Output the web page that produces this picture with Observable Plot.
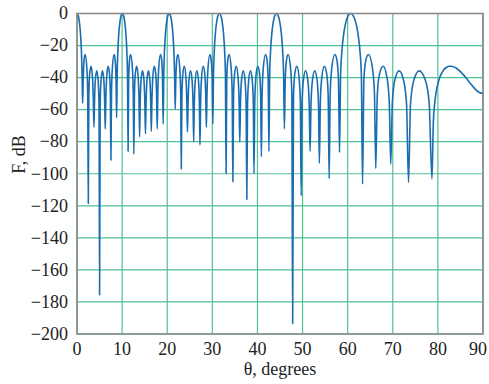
<!DOCTYPE html>
<html><head><meta charset="utf-8">
<script src="https://cdn.jsdelivr.net/npm/d3@7"></script>
<script src="https://cdn.jsdelivr.net/npm/@observablehq/plot@0.6"></script>
<style>body{margin:0;background:#fff} svg text{font-family:"Liberation Serif","DejaVu Serif",serif !important;}</style>
</head><body><div id="chart"></div>
<script>
// θ, degrees
const theta = [
0,0.25,0.5,0.75,1.0,1.125,1.25,1.375,1.563,1.813,2.188,2.375,2.5,2.625,2.813,3.126,3.439,3.627,3.752,3.877,4.066,4.379,4.693,4.881,5.006,5.132,5.32,5.634,5.947,6.136,6.261,6.387,6.576,6.891,7.205,7.394,7.52,7.646,7.836,8.215,8.467,8.657,8.783,
8.91,9.036,9.29,9.543,9.797,10.05,10.304,10.559,10.813,11.068,11.195,11.322,
11.45,11.641,11.897,12.28,12.471,12.599,12.727,12.92,13.241,13.562,13.755,13.883,14.012,14.206,14.529,14.851,15.045,15.174,15.304,15.499,15.824,16.148,16.343,16.473,16.604,16.8,17.127,17.454,17.65,17.781,17.913,18.111,18.506,18.77,18.967,19.099,
19.232,19.365,19.63,19.896,20.161,20.427,20.695,20.963,21.23,21.498,21.632,21.766,
21.901,22.104,22.374,22.78,22.983,23.118,23.255,23.46,23.801,24.143,24.347,24.484,24.622,24.829,25.175,25.52,25.727,25.865,26.005,26.215,26.564,26.914,27.123,27.263,27.405,27.617,27.971,28.324,28.537,28.678,28.822,29.037,29.467,29.754,29.97,30.113,
30.259,30.404,30.695,30.986,31.277,31.568,31.864,32.16,32.455,32.751,32.899,33.047,
33.197,33.423,33.724,34.175,34.401,34.551,34.704,34.934,35.317,35.7,35.93,36.083,36.239,36.474,36.864,37.255,37.489,37.645,37.805,38.044,38.443,38.842,39.081,39.241,39.404,39.649,40.058,40.466,40.711,40.874,41.041,41.293,41.795,42.13,42.381,42.548,
42.714,42.881,43.213,43.545,43.877,44.209,44.563,44.917,45.27,45.624,45.801,45.978,
46.161,46.435,46.8,47.348,47.622,47.805,47.994,48.278,48.752,49.225,49.509,49.698,49.895,50.191,50.684,51.176,51.472,51.669,51.875,52.184,52.699,53.214,53.523,53.729,53.946,54.271,54.813,55.354,55.679,55.896,56.126,56.47,57.158,57.617,57.962,58.191,
58.436,58.682,59.173,59.664,60.154,60.645,61.176,61.708,62.239,62.771,63.036,63.302,
63.595,64.034,64.62,65.499,65.938,66.231,66.563,67.061,67.89,68.72,69.217,69.549,69.909,70.462,71.417,72.423,73.054,73.488,73.933,74.624,75.849,77.188,78.062,78.681,
79.004,79.336,79.679,80.401,81.181,82.036,82.5,82.995,83.527,84.106,85.482,86.359,87.532,88.5,89,90
];
// F, dB
const fdB = [
0,-1.14,-4.77,-11.72,-24.95,-38.09,-56,-41.4,-29.08,-25.6,-34.24,-49.79,-118.6,-51.16,-37.67,-32.92,-39.96,-54.85,-71,-55.42,-41.38,-35.79,-42.06,-56.51,-175.6,-56.51,-42.06,-35.79,-41.38,-55.42,-72,-54.85,-39.96,-32.92,-37.67,-51.16,-91.5,-49.79,-34.24,-25.6,-29.08,-41.4,-65,
-38.09,-24.95,-11.72,-4.77,-1.14,0,-1.14,-4.77,-11.72,-24.95,-38.09,-86,
-41.4,-29.08,-25.6,-34.24,-49.79,-87.7,-51.16,-37.67,-32.92,-39.96,-54.85,-77,-55.42,-41.38,-35.79,-42.06,-56.51,-75,-56.51,-42.06,-35.79,-41.38,-55.42,-73.5,-54.85,-39.96,-32.92,-37.67,-51.16,-72,-49.79,-34.24,-25.6,-29.08,-41.4,-69,
-38.09,-24.95,-11.72,-4.77,-1.14,0,-1.14,-4.77,-11.72,-24.95,-38.09,-59.6,
-41.4,-29.08,-25.6,-34.24,-49.79,-97,-51.16,-37.67,-32.92,-39.96,-54.85,-74,-55.42,-41.38,-35.79,-42.06,-56.51,-80,-56.51,-42.06,-35.79,-41.38,-55.42,-82,-54.85,-39.96,-32.92,-37.67,-51.16,-71,-49.79,-34.24,-25.6,-29.08,-41.4,-69,
-38.09,-24.95,-11.72,-4.77,-1.14,0,-1.14,-4.77,-11.72,-24.95,-38.09,-99.8,
-41.4,-29.08,-25.6,-34.24,-49.79,-105,-51.16,-37.67,-32.92,-39.96,-54.85,-80,-55.42,-41.38,-35.79,-42.06,-56.51,-116,-56.51,-42.06,-35.79,-41.38,-55.42,-99.8,-54.85,-39.96,-32.92,-37.67,-51.16,-89.4,-49.79,-34.24,-25.6,-29.08,-41.4,-86,
-38.09,-24.95,-11.72,-4.77,-1.14,0,-1.14,-4.77,-11.72,-24.95,-38.09,-72,
-41.4,-29.08,-25.6,-34.24,-49.79,-193.5,-51.16,-37.67,-32.92,-39.96,-54.85,-113.7,-55.42,-41.38,-35.79,-42.06,-56.51,-86,-56.51,-42.06,-35.79,-41.38,-55.42,-93.5,-54.85,-39.96,-32.92,-37.67,-51.16,-103,-49.79,-34.24,-25.6,-29.08,-41.4,-86.7,
-38.09,-24.95,-11.72,-4.77,-1.14,0,-1.14,-4.77,-11.72,-24.95,-38.09,-106.5,
-41.4,-29.08,-25.6,-34.24,-49.79,-96.7,-51.16,-37.67,-32.92,-39.96,-54.85,-94,-55.42,-41.38,-35.79,-42.06,-56.51,-105.4,-56.51,-42.06,-35.79,-41.38,-55.42,-103.3,
-66.83,-54.85,-48,-39.96,-35.56,-33.36,-32.92,-32.91,-33.31,-34.19,-37.67,-40.6,-44.79,-47.85,-49.01,-50
];
const xTicks = [0,10,20,30,40,50,60,70,80,90];
const yTicks = [0,-20,-40,-60,-80,-100,-120,-140,-160,-180,-200];
const xLabel = "θ, degrees";
const yLabel = "F, dB";

const data = theta.map((t, i) => ({theta: t, f: fdB[i]}));
const grid = "#52c096";
const serif = "Liberation Serif";
const lastX = xTicks[xTicks.length - 1];

const chart = Plot.plot({
  width: 489, height: 384,
  marginLeft: 76.5, marginRight: 6.5, marginTop: 13, marginBottom: 50.5,
  style: {fontFamily: serif, fontSize: "18px", background: "#fff", color: "#222"},
  x: {domain: [0, 90]},
  y: {domain: [-200, 0]},
  marks: [
    Plot.gridX(xTicks, {stroke: grid, strokeOpacity: 1, strokeWidth: 1.2}),
    Plot.gridY(yTicks, {stroke: grid, strokeOpacity: 1, strokeWidth: 1.2}),
    Plot.line(data, {x: "theta", y: "f", stroke: "#1b6db1", strokeWidth: 1.6, curve: "monotone-x"}),
    Plot.frame({stroke: "#8a8a8a", strokeWidth: 1.6}),
    Plot.axisX(xTicks.slice(0, -1), {tickSize: 0, tickPadding: 8, label: null, fontSize: 18, fontFamily: serif}),
    Plot.axisX([lastX], {tickSize: 0, tickPadding: 8, label: null, fontSize: 18, fontFamily: serif, dx: -5}),
    Plot.axisY(yTicks, {tickSize: 0, tickPadding: 9, label: null, fontSize: 18, fontFamily: serif}),
    Plot.text([xLabel], {frameAnchor: "bottom", dy: 41, fontSize: 18, fontFamily: serif, text: d => d}),
    Plot.text([yLabel], {frameAnchor: "left", dx: -58, rotate: -90, fontSize: 18, fontFamily: serif, text: d => d})
  ]
});
document.getElementById("chart").appendChild(chart);
</script>
</body></html>
